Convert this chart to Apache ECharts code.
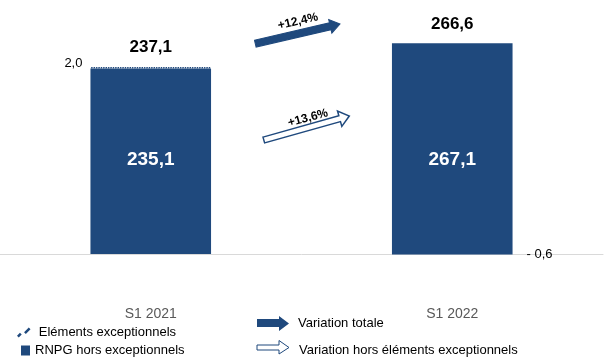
<!DOCTYPE html>
<html>
<head>
<meta charset="utf-8">
<script src="https://cdn.jsdelivr.net/npm/echarts@6/dist/echarts.min.js"></script>
<style>
html,body{margin:0;padding:0;background:#fff;}
#chart{width:606px;height:361px;}
</style>
</head>
<body>
<div id="chart"></div>
<script>
// ---- data ----
var categories = ['S1 2021', 'S1 2022'];
var rnpgHorsExcep = [235.1, 267.1];
var elementsExcep = [2.0, -0.6];
var totals = [237.1, 266.6];
var variationTotale = '+12,4%';
var variationHorsExcep = '+13,6%';
var seriesNames = ['Eléments exceptionnels', 'RNPG hors exceptionnels'];
var arrowLegend = ['Variation totale', 'Variation hors éléments exceptionnels'];

var BLUE = '#1F497D';
var FONT = '"Liberation Sans", Arial, sans-serif';

function fmt(v) {
  var s = Math.abs(v).toFixed(1).replace('.', ',');
  return v < 0 ? '- ' + s : s;
}

function arrowPoints(L, s, w, h) {
  return [[0, -s / 2], [L - h, -s / 2], [L - h, -w / 2], [L, 0], [L - h, w / 2], [L - h, s / 2], [0, s / 2]];
}

function arrow(x0, y0, x1, y1, s, w, h, filled) {
  var dx = x1 - x0, dy = y1 - y0;
  var L = Math.sqrt(dx * dx + dy * dy);
  var ang = Math.atan2(-dy, dx);
  return {
    type: 'polygon',
    x: x0, y: y0, rotation: ang,
    shape: { points: arrowPoints(L, s, w, h) },
    style: filled ? { fill: BLUE, stroke: BLUE, lineWidth: 1 } : { fill: '#fff', stroke: BLUE, lineWidth: 1.5 },
    z: 10
  };
}

function rotText(text, cx, cy, deg) {
  return {
    type: 'text', x: cx, y: cy, rotation: deg * Math.PI / 180,
    style: { text: text, fill: '#000', font: 'bold 12px ' + FONT, align: 'center', verticalAlign: 'middle' },
    z: 11
  };
}

var chart = echarts.init(document.getElementById('chart'), null, { renderer: 'canvas' });

var option = {
  animation: false,
  backgroundColor: '#fff',
  grid: { left: -1, right: 3, top: 17.3, bottom: 91.2 },
  xAxis: {
    type: 'category',
    data: categories,
    axisLine: { onZero: true, lineStyle: { color: '#D9D9D9', width: 1 } },
    axisTick: { show: false },
    axisLabel: { margin: 37, color: '#595959', fontSize: 14, fontFamily: FONT }
  },
  yAxis: {
    type: 'value', min: -20, max: 300, show: false,
    splitLine: { show: false }
  },
  legend: [
    {
      data: [{ name: seriesNames[0], icon: 'path://M0,10 L2.5,7.5 L4,9 L1.5,11.5 Z M6,7 L10,3 L11.5,4.5 L7.5,8.5 Z' }],
      orient: 'vertical', left: 12, top: 321, itemWidth: 20, itemHeight: 10,
      textStyle: { fontSize: 13, color: '#000', fontFamily: FONT },
      selectedMode: false
    },
    {
      data: [{ name: seriesNames[1], icon: 'rect' }],
      orient: 'vertical', left: 16, top: 339, itemWidth: 9, itemHeight: 10,
      textStyle: { fontSize: 13, color: '#000', fontFamily: FONT },
      selectedMode: false
    }
  ],
  series: [
    {
      name: seriesNames[1],
      type: 'bar', stack: 'total', barWidth: '40%', barGap: '-100%',
      itemStyle: { color: BLUE },
      data: rnpgHorsExcep.map(function (v, i) {
        return {
          value: v,
          label: {
            show: true, position: 'inside', offset: i === 1 ? [0, 11] : [0, -1],
            color: '#fff', fontWeight: 'bold', fontSize: 19, fontFamily: FONT,
            formatter: function (p) { return fmt(p.value); }
          }
        };
      })
    },
    {
      name: seriesNames[0],
      type: 'bar', stack: 'total', barWidth: '40%', barGap: '-100%',
      itemStyle: { color: BLUE, borderColor: BLUE, borderWidth: 0 },
      data: elementsExcep.map(function (v, i) {
        return {
          value: v,
          itemStyle: i === 0 ? { color: '#fff', borderColor: BLUE, borderWidth: 1.2, borderType: 'dotted' } : { color: BLUE },
          label: {
            show: true, position: i === 0 ? 'left' : 'right', distance: i === 0 ? 8 : 14,
            offset: i === 0 ? [0, -4] : [0, 0],
            color: '#000', fontSize: 13, fontFamily: FONT,
            formatter: function (p) { return fmt(p.value); }
          }
        };
      })
    },
    {
      name: 'Total', type: 'bar', barWidth: '40%', barGap: '-100%', silent: true, z: 1,
      itemStyle: { color: 'rgba(0,0,0,0)' },
      data: totals,
      label: {
        show: true, position: 'top', distance: 11,
        color: '#000', fontWeight: 'bold', fontSize: 17, fontFamily: FONT,
        formatter: function (p) { return fmt(p.value); }
      }
    }
  ],
  graphic: [
    arrow(255.3, 43.7, 340, 24, 7, 14, 10, true),
    rotText(variationTotale, 298, 21.5, 13),
    arrow(263.8, 140, 349.3, 116, 6, 16, 10, false),
    rotText(variationHorsExcep, 308, 118, 15),
    // legend arrows
    { type: 'polygon', shape: { points: [[257, 319], [279, 319], [279, 316], [289, 323.5], [279, 331], [279, 327], [257, 327]] }, style: { fill: BLUE } },
    { type: 'polygon', shape: { points: [[257, 345], [279, 345], [279, 340.5], [289, 347.5], [279, 354], [279, 350], [257, 350]] }, style: { fill: '#fff', stroke: BLUE, lineWidth: 1 } },
    { type: 'text', x: 298, y: 323, style: { text: arrowLegend[0], fill: '#000', font: '13px ' + FONT, verticalAlign: 'middle' } },
    { type: 'text', x: 299, y: 350, style: { text: arrowLegend[1], fill: '#000', font: '13px ' + FONT, verticalAlign: 'middle' } }
  ]
};
chart.setOption(option);
</script>
</body>
</html>
